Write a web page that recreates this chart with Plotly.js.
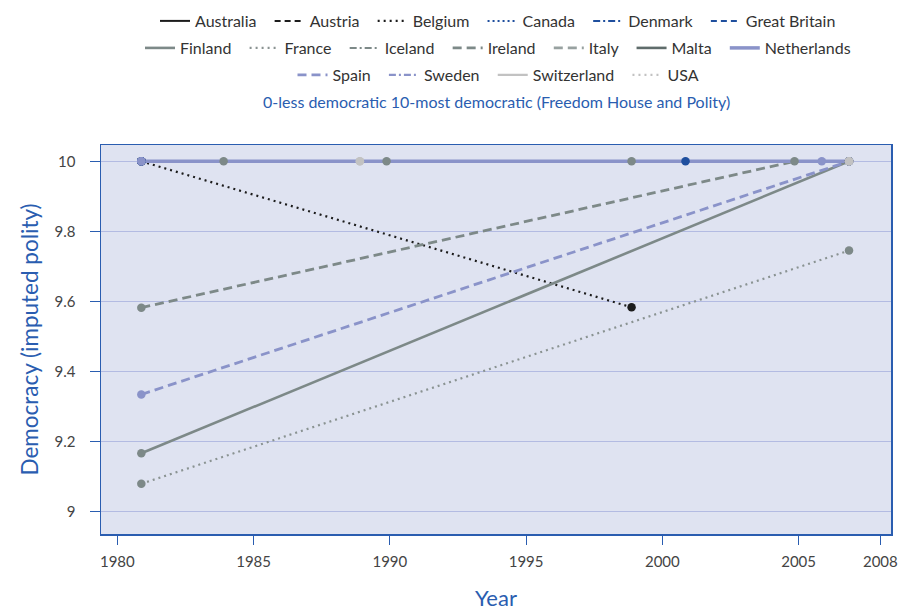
<!DOCTYPE html>
<html>
<head>
<meta charset="utf-8">
<script src="https://cdn.plot.ly/plotly-3.0.1.min.js"></script>
<style>html,body{margin:0;padding:0;background:#fff;}#chart{width:903px;height:611px;}</style>
</head>
<body>
<div id="chart"></div>
<script>
// ---- data (x) ----
const countries = ["Australia","Austria","Belgium","Canada","Denmark","Great Britain",
  "Finland","France","Iceland","Ireland","Italy","Malta","Netherlands",
  "Spain","Sweden","Switzerland","USA"];

const yearsAustralia = [1980.88, 2006.85];   const polityAustralia = [10, 10];
const yearsAustria = [1980.88, 2006.85];     const polityAustria = [10, 10];
const yearsBelgium = [1980.88, 1998.87];     const polityBelgium = [10, 9.583];
const yearsCanada = [1980.88, 2006.85];      const polityCanada = [10, 10];
const yearsDenmark = [1980.88, 2000.85];     const polityDenmark = [10, 10];
const yearsGreatBritain = [1980.88, 2006.85];const polityGreatBritain = [10, 10];
const yearsFinland = [1980.88, 2006.85];     const polityFinland = [9.166, 10];
const yearsFrance = [1980.88, 2006.85];      const polityFrance = [9.079, 9.745];
const yearsIceland = [1983.9, 2006.85];      const polityIceland = [10, 10];
const yearsIreland = [1980.88, 2004.85];     const polityIreland = [9.582, 10];
const yearsItaly = [1989.88, 2006.85];       const polityItaly = [10, 10];
const yearsMalta = [1998.87, 2006.85];       const polityMalta = [10, 10];
const yearsNetherlands = [1980.88, 2006.85]; const polityNetherlands = [10, 10];
const yearsSpain = [1980.88, 2006.85];       const politySpain = [9.334, 10];
const yearsSweden = [1980.88, 2005.85];      const politySweden = [10, 10];
const yearsSwitzerland = [1988.9, 2006.85];  const politySwitzerland = [10, 10];
const yearsUSA = [1988.9, 2006.85];          const polityUSA = [10, 10];

const xTickVals = [1980, 1985, 1990, 1995, 2000, 2005, 2008];
const yTickVals = [9, 9.2, 9.4, 9.6, 9.8, 10];
const yTickText = ["9", "9.2", "9.4", "9.6", "9.8", "10"];

const seriesYears = [yearsAustralia, yearsAustria, yearsBelgium, yearsCanada, yearsDenmark, yearsGreatBritain,
  yearsFinland, yearsFrance, yearsIceland, yearsIreland, yearsItaly, yearsMalta, yearsNetherlands,
  yearsSpain, yearsSweden, yearsSwitzerland, yearsUSA];
const seriesPolity = [polityAustralia, polityAustria, polityBelgium, polityCanada, polityDenmark, polityGreatBritain,
  polityFinland, polityFrance, polityIceland, polityIreland, polityItaly, polityMalta, polityNetherlands,
  politySpain, politySweden, politySwitzerland, polityUSA];

// ---- styles ----
const BLK = "#1c1c1c", BLU = "#1f4f9e", GRY = "#7d8988", GRYL = "#98a1a0", GRYD = "#5f6c6b",
      LAV = "#8a93c9", LGR = "#c2c2c2", GRYF = "#8a9392";
const styles = [
  {c: BLK, d: "solid", w: 2},
  {c: BLK, d: "6px,4px", w: 2},
  {c: BLK, d: "2px,4px", w: 2.2},
  {c: BLU, d: "2px,3px", w: 2},
  {c: BLU, d: "7px,3px,2px,3px", w: 2},
  {c: BLU, d: "6px,4px", w: 2},
  {c: GRY, d: "solid", w: 2.6},
  {c: GRYF, d: "2px,4px", w: 2.2},
  {c: GRY, d: "7px,3px,2px,3px", w: 2},
  {c: GRY, d: "9px,5px", w: 2.8},
  {c: GRYL, d: "9px,5px", w: 2.6},
  {c: GRYD, d: "solid", w: 2.6},
  {c: LAV, d: "solid", w: 3.5},
  {c: LAV, d: "9px,5px", w: 2.8},
  {c: LAV, d: "7px,3px,2px,3px", w: 2.4},
  {c: LGR, d: "solid", w: 2.4},
  {c: LGR, d: "2px,4px", w: 2.2}
];
const markerColors = [BLK, BLK, BLK, BLU, BLU, BLU, GRY, GRY, GRY, GRY, GRY, GRY, LAV, LAV, LAV, LGR, LGR];
const legendOf = i => (i < 6 ? "legend" : (i < 13 ? "legend2" : "legend3"));
const PAD = "\u00a0\u00a0";

// line drawing order: Netherlands last so it sits on top
const lineOrder = [0,1,2,3,4,5,6,7,8,9,10,11,13,14,15,16,12];
const traces = [];
lineOrder.forEach(i => {
  traces.push({
    type: "scatter", mode: "lines", name: countries[i] + PAD,
    x: seriesYears[i], y: seriesPolity[i],
    line: {color: styles[i].c, dash: styles[i].d, width: styles[i].w},
    legend: legendOf(i), legendgroup: countries[i], hoverinfo: "skip"
  });
});
countries.forEach((name, i) => {
  traces.push({
    type: "scatter", mode: "markers", name: name, showlegend: false,
    x: seriesYears[i], y: seriesPolity[i],
    marker: {color: markerColors[i], size: 8.5},
    legendgroup: name, hoverinfo: "skip"
  });
});

const FONT = "Lato, 'Open Sans', sans-serif";
const legendBase = {
  orientation: "h", xref: "paper", x: 0.5076, xanchor: "center",
  yref: "container", yanchor: "middle",
  font: {family: FONT, size: 16, color: "#333"},
  bgcolor: "rgba(0,0,0,0)", itemwidth: 30, tracegroupgap: 0
};

const layout = {
  width: 903, height: 611,
  margin: {l: 101, r: 12, t: 145, b: 77},
  paper_bgcolor: "#ffffff", plot_bgcolor: "#dfe3f1",
  font: {family: FONT, size: 15, color: "#444"},
  showlegend: true,
  legend: Object.assign({}, legendBase, {y: 1 - 21/611}),
  legend2: Object.assign({}, legendBase, {y: 1 - 48/611}),
  legend3: Object.assign({}, legendBase, {y: 1 - 75/611}),
  xaxis: {
    range: [1979.40, 2008.39], tickvals: xTickVals, ticktext: xTickVals.map(String),
    ticks: "outside", ticklen: 9, tickcolor: "#2a5db0", tickwidth: 1,
    ticklabelstandoff: 4,
    showgrid: false, zeroline: false,
    showline: true, linecolor: "#2a5db0", linewidth: 1.5, mirror: true,
    tickfont: {family: FONT, size: 15, color: "#444"},
    title: {text: "Year", font: {family: FONT, size: 22, color: "#2a5db0"}, standoff: 22}
  },
  yaxis: {
    range: [8.9354, 10.0466], tickvals: yTickVals, ticktext: yTickText,
    ticks: "outside", ticklen: 10, tickcolor: "#2a5db0", tickwidth: 1,
    ticklabelstandoff: 11,
    showgrid: true, gridcolor: "#b3bbe2", gridwidth: 1, zeroline: false,
    showline: true, linecolor: "#2a5db0", linewidth: 1.5, mirror: true,
    tickfont: {family: FONT, size: 15, color: "#444"},
    title: {text: "Democracy (imputed polity)", font: {family: FONT, size: 22.5, color: "#2a5db0"}, standoff: 9}
  },
  annotations: [{
    xref: "paper", yref: "paper", x: 0.5, y: (534 - 101) / 389, xanchor: "center", yanchor: "middle",
    showarrow: false, text: "0-less democratic 10-most democratic (Freedom House and Polity)",
    font: {family: FONT, size: 16, color: "#2a5db0"}
  }]
};

Plotly.newPlot("chart", traces, layout, {displayModeBar: false, staticPlot: true});
</script>
</body>
</html>
